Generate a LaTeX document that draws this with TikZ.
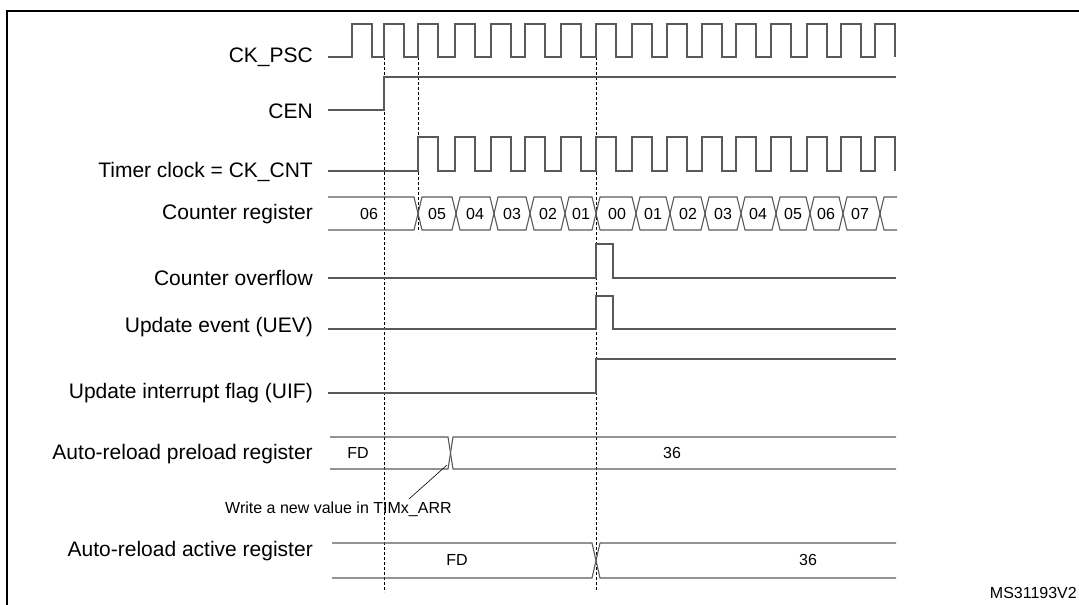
\documentclass[tikz,border=0pt]{standalone}
\usepackage{fontspec}
\setmainfont{Liberation Sans}
\begin{document}
\begin{tikzpicture}[x=1pt,y=-1pt,
  sig/.style={draw=black!65,line width=1.1pt},
  dsh/.style={draw=black,line width=0.6pt,dash pattern=on 3pt off 2pt},
  lbl/.style={anchor=east,font=\fontsize{21}{21}\selectfont,inner sep=0pt},
  val/.style={font=\fontsize{16}{16}\selectfont,inner sep=0pt},
  note/.style={font=\fontsize{16}{16}\selectfont,inner sep=0pt}]
\useasboundingbox (0,0) rectangle (1079,605);
\draw[black,line width=1.6pt] (7,700) -- (7,11) -- (1090,11);
% labels
\node[lbl] (l1) at (313,57) {CK\_PSC};
\node[lbl] (l2) at (313,111) {CEN};
\node[lbl] (l3) at (313,172) {Timer clock = CK\_CNT};
\node[lbl] (l4) at (313,214) {Counter register};
\node[lbl] (l5) at (313,278) {Counter overflow};
\node[lbl] (l6) at (313,327) {Update event (UEV)};
\node[lbl] (l7) at (313,393) {Update interrupt flag (UIF)};
\node[lbl] (l8) at (313,454) {Auto-reload preload register};
\node[lbl] (l9) at (313,551) {Auto-reload active register};
% dashed
\draw[dsh] (384,57) -- (384,592);
\draw[dsh] (418,57) -- (418,232);
\draw[dsh] (596,57) -- (596,590);
% CK_PSC
\draw[sig] (328,57) foreach \r in {352,384,418,455,491,525,561,596,632,667,702,736,771,807,841,875}
  { -- (\r,57) -- (\r,24) -- (\r+20,24) -- (\r+20,57) };
% CEN
\draw[sig] (328,110) -- (384,110) -- (384,77) -- (896,77);
% Timer clock
\draw[sig] (328,171) foreach \r in {418,455,491,525,561,596,632,667,702,736,771,807,841,875}
  { -- (\r,171) -- (\r,137) -- (\r+20,137) -- (\r+20,171) };
% Counter register bus
\def\t{197}\def\b{230}
\draw[sig] (328,\t) -- (414,\t) -- (422,\b) -- (452,\b) -- (460,\t) -- (490,\t) -- (498,\b) -- (526,\b) -- (534,\t) -- (561,\t) -- (569,\b) -- (592,\b) -- (600,\t) -- (632,\t) -- (640,\b) -- (666,\b) -- (674,\t) -- (701,\t) -- (709,\b) -- (737,\b) -- (745,\t) -- (772,\t) -- (780,\b) -- (806,\b) -- (814,\t) -- (839,\t) -- (847,\b) -- (876,\b) -- (884,\t) -- (897,\t);
\draw[sig] (328,\b) -- (414,\b) -- (422,\t) -- (452,\t) -- (460,\b) -- (490,\b) -- (498,\t) -- (526,\t) -- (534,\b) -- (561,\b) -- (569,\t) -- (592,\t) -- (600,\b) -- (632,\b) -- (640,\t) -- (666,\t) -- (674,\b) -- (701,\b) -- (709,\t) -- (737,\t) -- (745,\b) -- (772,\b) -- (780,\t) -- (806,\t) -- (814,\b) -- (839,\b) -- (847,\t) -- (876,\t) -- (884,\b) -- (897,\b);
\foreach \x/\v/\n in {369/06/a,437/05/b,475/04/c,512/03/d,548/02/e,581/01/f,617/00/g,653/01/h,688/02/i,723/03/j,758/04/k,793/05/l,826/06/m,860/07/n}
  \node[val] (c\n) at (\x,214) {\v};
% overflow
\draw[sig] (328,278) -- (596,278) -- (596,244) -- (613,244) -- (613,278) -- (896,278);
% UEV
\draw[sig] (328,329) -- (596,329) -- (596,296) -- (613,296) -- (613,329) -- (896,329);
% UIF
\draw[sig] (328,393) -- (596,393) -- (596,359) -- (896,359);
% preload
\draw[sig] (330,437) -- (448,437) -- (453,469) -- (896,469);
\draw[sig] (330,469) -- (448,469) -- (453,437) -- (896,437);
\node[val] (p1) at (358,453) {FD};
\node[val] (p2) at (672,453) {36};
\node[note,anchor=west] (w) at (225,509) {Write a new value in TIMx\_ARR};
\coordinate (wt) at (447,465);
\draw[black,line width=0.6pt] (409,499) -- (wt);
% active
\draw[sig] (332,543) -- (592,543) -- (600,578) -- (896,578);
\draw[sig] (332,578) -- (592,578) -- (600,543) -- (896,543);
\node[val] (a1) at (457,560) {FD};
\node[val] (a2) at (808,560) {36};
\node[note,anchor=east] (ms) at (1077,593) {MS31193V2};
\end{tikzpicture}
\end{document}
